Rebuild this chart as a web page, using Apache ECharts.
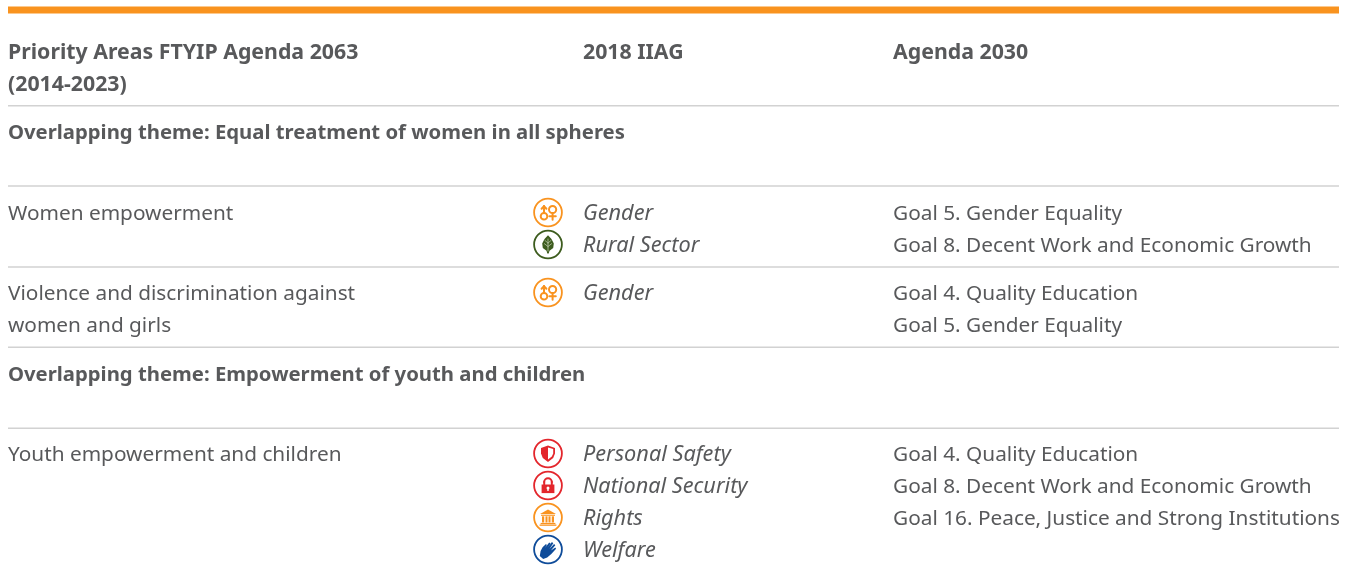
<!DOCTYPE html>
<html><head><meta charset="utf-8">
<style>html,body{margin:0;padding:0;background:#fff}#c{width:1352px;height:566px}</style>
<script src="https://cdn.jsdelivr.net/npm/echarts@6/dist/echarts.min.js"></script>
</head><body><div id="c"></div>
<script>
// ---- content ----
const headerPriority = ["Priority Areas FTYIP Agenda 2063", "(2014-2023)"];
const headerIiag = ["2018 IIAG"];
const headerAgenda = ["Agenda 2030"];
const themeEqual = "Overlapping theme: Equal treatment of women in all spheres";
const themeYouth = "Overlapping theme: Empowerment of youth and children";
const priorityWomen = ["Women empowerment"];
const priorityViolence = ["Violence and discrimination against", "women and girls"];
const priorityYouth = ["Youth empowerment and children"];
const iiagWomen = ["Gender", "Rural Sector"];
const iiagViolence = ["Gender"];
const iiagYouth = ["Personal Safety", "National Security", "Rights", "Welfare"];
const goalsWomen = ["Goal 5. Gender Equality", "Goal 8. Decent Work and Economic Growth"];
const goalsViolence = ["Goal 4. Quality Education", "Goal 5. Gender Equality"];
const goalsYouth = ["Goal 4. Quality Education", "Goal 8. Decent Work and Economic Growth", "Goal 16. Peace, Justice and Strong Institutions"];

// ---- layout ----
const W = 1352, H = 566;
const TEXT = "#58595b", RULE = "#d2d2d2", ORANGE = "#f9931f", RED = "#e3262c", GREEN = "#3d5c1e", BLUE = "#0f4c9a";
const FONT = '"Noto Sans", sans-serif';
const SIZES = { h: 21.3, t: 20.3, n: 20.8, i: 21.7 };
const X0 = 8, X1 = 1339, COL_ICON = 548, COL_IIAG = 583, COL_GOAL = 893;
const LINE = 32, ROW_HEAD = 53, ROW_THEME1 = 133, ROW_WOMEN = 214, ROW_VIOL = 294, ROW_THEME2 = 375, ROW_YOUTH = 455;
const ICON_SHIFT = -1.5;
const rules = [105.8, 186, 267, 347.2, 428.2];

const textCells = [];
function addCol(lines, x, y, kind) { lines.forEach((t, i) => textCells.push([x, y + i * LINE, t, kind])); }
addCol(headerPriority, X0, ROW_HEAD, "h");
addCol(headerIiag, COL_IIAG, ROW_HEAD, "h");
addCol(headerAgenda, COL_GOAL, ROW_HEAD, "h");
addCol([themeEqual], X0, ROW_THEME1, "t");
addCol(priorityWomen, X0, ROW_WOMEN, "n");
addCol(iiagWomen, COL_IIAG, ROW_WOMEN, "i");
addCol(goalsWomen, COL_GOAL, ROW_WOMEN, "n");
addCol(priorityViolence, X0, ROW_VIOL, "n");
addCol(iiagViolence, COL_IIAG, ROW_VIOL, "i");
addCol(goalsViolence, COL_GOAL, ROW_VIOL, "n");
addCol([themeYouth], X0, ROW_THEME2, "t");
addCol(priorityYouth, X0, ROW_YOUTH, "n");
addCol(iiagYouth, COL_IIAG, ROW_YOUTH, "i");
addCol(goalsYouth, COL_GOAL, ROW_YOUTH, "n");

const iconCells = [];
[[iiagWomen, ROW_WOMEN], [iiagViolence, ROW_VIOL], [iiagYouth, ROW_YOUTH]].forEach(([list, y]) =>
  list.forEach((t, i) => iconCells.push([COL_ICON, y + ICON_SHIFT + i * LINE, t])));

// ---- icon glyphs, drawn around a local origin ----
const st = (c, w) => ({ stroke: c, fill: null, lineWidth: w || 1.5, lineCap: "round" });
const fl = (c) => ({ fill: c, stroke: null });
const ln = (a, b, c, d, col, w) => ({ type: "line", shape: { x1: a, y1: b, x2: c, y2: d }, style: st(col, w) });
const poly = (pts, col, smooth) => ({ type: "polygon", shape: { points: pts, smooth: smooth || 0 }, style: fl(col) });
const rect = (x, y, w, h, col) => ({ type: "rect", shape: { x, y, width: w, height: h }, style: fl(col) });
const circ = (x, y, r, style) => ({ type: "circle", shape: { cx: x, cy: y, r }, style });
const glyphs = {
  "Gender": { color: ORANGE, parts: () => [
    circ(-4, 3.8, 3.3, st(ORANGE, 2)), ln(-4, 0.5, -4, -6.2, ORANGE, 2),
    ln(-6.4, -3.8, -4, -6.4, ORANGE, 2), ln(-1.6, -3.8, -4, -6.4, ORANGE, 2),
    circ(4.6, -3, 3.6, st(ORANGE, 2)), ln(4.6, 0.6, 4.6, 7.2, ORANGE, 2), ln(1.4, 3.8, 7.8, 3.8, ORANGE, 2)
  ]},
  "Rural Sector": { color: GREEN, parts: () => [
    poly([[0, -9.2], [3.5, -5.5], [5.8, -1], [5.2, 3.5], [1.5, 6.2], [0.7, 9], [-0.7, 9], [-1.5, 6.2], [-5.2, 3.5], [-5.8, -1], [-3.5, -5.5]], GREEN),
    ln(0, -5.5, 0, 6.5, "#b9c6a6", 0.8), ln(0, -1.5, 3, -4, "#b9c6a6", 0.8), ln(0, -1.5, -3, -4, "#b9c6a6", 0.8),
    ln(0, 2, 3.6, -0.8, "#b9c6a6", 0.8), ln(0, 2, -3.6, -0.8, "#b9c6a6", 0.8)
  ]},
  "Personal Safety": { color: RED, parts: () => [
    poly([[0, -8], [-7, -5.6], [-7, 0], [-5.2, 4.4], [0, 8.6]], RED),
    poly([[0, -8], [7, -5.6], [7, 0], [5.2, 4.4], [0, 8.6], [0, 6], [3.8, 3], [5.2, 0], [5.2, -4.4], [0, -6]], RED)
  ]},
  "National Security": { color: RED, parts: () => [
    { type: "arc", shape: { cx: 0, cy: -3.4, r: 3.8, startAngle: Math.PI, endAngle: 0 }, style: st(RED, 2) },
    ln(-3.8, -3.4, -3.8, -1, RED, 2), ln(3.8, -3.4, 3.8, -1, RED, 2),
    rect(-6.4, -1, 12.8, 8.6, RED), circ(0, 2.4, 1.5, fl("#fff")), rect(-0.7, 2.4, 1.4, 3.2, "#fff")
  ]},
  "Rights": { color: ORANGE, parts: () => [
    poly([[0, -8], [-8, -3.6], [8, -3.6]], ORANGE), rect(-7, -2.8, 14, 1.1, ORANGE),
    rect(-6, -1.2, 2.2, 6.2, ORANGE), rect(-2.5, -1.2, 2, 6.2, ORANGE), rect(0.5, -1.2, 2, 6.2, ORANGE), rect(3.8, -1.2, 2.2, 6.2, ORANGE),
    rect(-7.4, 5.4, 14.8, 1.2, ORANGE), rect(-8.4, 7, 16.8, 1.3, ORANGE)
  ]},
  "Welfare": { color: BLUE, parts: () => [
    poly([[-8.2, 6.5], [-7.4, 1.5], [-5.4, -2.2], [-2, -5.6], [-1.2, -4.6], [-2.9, -1.8], [1.2, -7], [2.6, -5.9], [-0.6, -1.2], [3.9, -7.4], [5.3, -6.3], [1.4, -0.6], [6.1, -5.4], [7.3, -4.2], [2.9, 1], [7.3, -2], [8.1, -0.8], [3.3, 4.4], [-0.8, 8], [-4.8, 9.6]], BLUE)
  ]}
};

const chart = echarts.init(document.getElementById("c"), null, { renderer: "canvas" });
const hiddenAxis = { show: false, type: "value" };
chart.setOption({
  animation: false,
  backgroundColor: "#ffffff",
  grid: { left: 0, right: 0, top: 0, bottom: 0 },
  xAxis: Object.assign({ min: 0, max: W }, hiddenAxis),
  yAxis: Object.assign({ min: 0, max: H, inverse: true }, hiddenAxis),
  series: [
    { type: "custom", silent: true, data: [[X0, 6.6, X1, 13.4]], renderItem: (p, api) => {
        const a = api.coord([api.value(0), api.value(1)]), b = api.coord([api.value(2), api.value(3)]);
        return { type: "rect", shape: { x: a[0], y: a[1], width: b[0] - a[0], height: b[1] - a[1] }, style: { fill: ORANGE } };
    }},
    { type: "custom", silent: true, data: rules.map(y => [X0, y]), renderItem: (p, api) => {
        const a = api.coord([X0, api.value(1)]), b = api.coord([X1, api.value(1)]);
        return { type: "rect", shape: { x: a[0], y: a[1] - 0.8, width: b[0] - a[0], height: 1.6 }, style: { fill: RULE } };
    }},
    { type: "custom", silent: true, data: textCells, encode: { x: 0, y: 1 }, renderItem: (p, api) => {
        const c = textCells[p.dataIndex], a = api.coord([c[0], c[1]]);
        return { type: "text", x: a[0], y: a[1], style: {
          text: c[2], fill: TEXT, fontFamily: FONT, fontSize: SIZES[c[3]],
          fontWeight: (c[3] === "h" || c[3] === "t") ? 700 : 400, fontStyle: c[3] === "i" ? "italic" : "normal",
          textAlign: "left", textVerticalAlign: "middle" } };
    }},
    { type: "custom", silent: true, data: iconCells, encode: { x: 0, y: 1 }, renderItem: (p, api) => {
        const c = iconCells[p.dataIndex], a = api.coord([c[0], c[1]]), g = glyphs[c[2]];
        const ring = { type: "circle", shape: { cx: 0, cy: 0, r: 13.9 }, style: { stroke: g.color, fill: "#fff", lineWidth: 1.8 } };
        return { type: "group", x: a[0], y: a[1], children: [ring].concat(g.parts()) };
    }}
  ]
});
</script></body></html>
